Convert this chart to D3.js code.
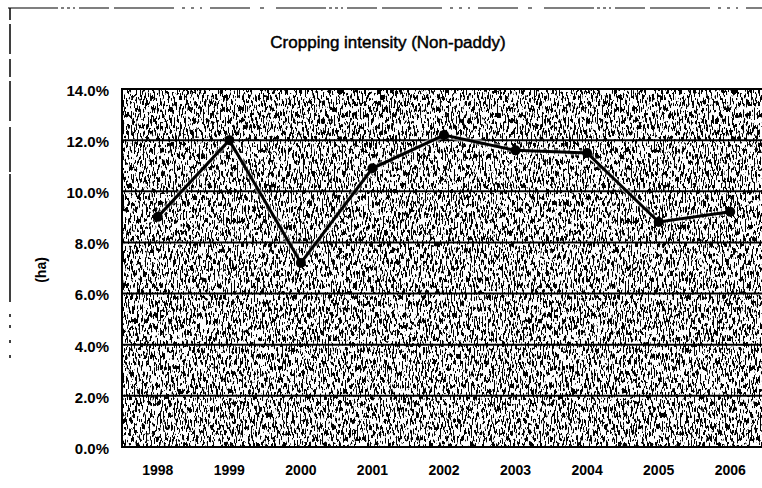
<!DOCTYPE html>
<html>
<head>
<meta charset="utf-8">
<script src="https://cdn.jsdelivr.net/npm/d3@7"></script>
<style>
  body { margin: 0; background: #fff; }
  svg text { font-family: "Liberation Sans", Arial, sans-serif; font-weight: bold; fill: #000; }
</style>
</head>
<body>
<div id="chart"></div>
<script>
const years = ["1998", "1999", "2000", "2001", "2002", "2003", "2004", "2005", "2006"];
const values = [9.0, 12.0, 7.2, 10.9, 12.2, 11.6, 11.5, 8.8, 9.2];
const yTicks = [0, 2, 4, 6, 8, 10, 12, 14];

const width = 762, height = 488;
const margin = { top: 89, right: -4, bottom: 41, left: 122 };
const graphWidth = width - margin.left - margin.right;
const graphHeight = height - margin.top - margin.bottom;

const svg = d3.select('#chart').append('svg')
    .attr('width', width)
    .attr('height', height);

// scanned grey fill, done as a thresholded noise texture
const defs = svg.append('defs');
const filter = defs.append('filter').attr('id', 'scan')
    .attr('x', 0).attr('y', 0).attr('width', 1).attr('height', 1)
    .attr('color-interpolation-filters', 'sRGB');
filter.append('feTurbulence')
    .attr('type', 'fractalNoise')
    .attr('baseFrequency', '0.65 0.17')
    .attr('numOctaves', 2)
    .attr('seed', 7)
    .attr('result', 'noise');
filter.append('feColorMatrix')
    .attr('type', 'matrix')
    .attr('values', '0 0 0 0 0  0 0 0 0 0  0 0 0 0 0  -24 0 0 0 11.4');
defs.append('clipPath').attr('id', 'clip')
    .append('rect').attr('width', graphWidth).attr('height', graphHeight);

// outer frame (broken scan lines)
svg.append('line')
    .attr('x1', 8).attr('x2', width).attr('y1', 8).attr('y2', 8)
    .attr('stroke', '#000').attr('stroke-width', 1.2)
    .attr('stroke-dasharray', '50 3 3 3 3 3 2 4 30 5 60 8 3 6 3 6 2 8 40 10 4 12');
svg.append('line')
    .attr('x1', 10).attr('x2', 10).attr('y1', 8).attr('y2', 358)
    .attr('stroke', '#000').attr('stroke-width', 1.5)
    .attr('stroke-dasharray', '12 4 30 5 18 4 40 6 45 2 128 12 3 8 3 12 3 12');

svg.append('text')
    .attr('x', 388).attr('y', 48)
    .attr('text-anchor', 'middle')
    .style('font-size', '17px')
    .style('font-weight', 'normal')
    .attr('stroke', '#000').attr('stroke-width', 0.45)
    .text('Cropping intensity (Non-paddy)');

const x = d3.scaleBand()
    .domain(years)
    .range([0, graphWidth]);

const y = d3.scaleLinear()
    .domain([0, 14])
    .range([graphHeight, 0]);

const graph = svg.append('g')
    .attr('transform', `translate(${margin.left}, ${margin.top})`);

graph.append('rect')
    .attr('width', graphWidth).attr('height', graphHeight)
    .attr('fill', '#fff');
graph.append('rect')
    .attr('width', graphWidth).attr('height', graphHeight)
    .attr('fill', '#000')
    .attr('filter', 'url(#scan)');

graph.selectAll('.grid').data(yTicks)
    .enter().append('line')
    .attr('class', 'grid')
    .attr('x1', 0).attr('x2', graphWidth)
    .attr('y1', d => y(d)).attr('y2', d => y(d))
    .attr('stroke', '#000').attr('stroke-width', 2);

graph.append('rect')
    .attr('width', graphWidth).attr('height', graphHeight)
    .attr('fill', 'none').attr('stroke', '#000').attr('stroke-width', 2);

const yAxisGroup = graph.append('g')
    .call(d3.axisLeft(y).tickValues(yTicks).tickSize(0).tickPadding(13)
        .tickFormat(d => d.toFixed(1) + '%'));
yAxisGroup.select('.domain').remove();
yAxisGroup.selectAll('text').style('font-size', '15px').attr('dy', '0.42em');

const xAxisGroup = graph.append('g')
    .attr('transform', `translate(0, ${graphHeight})`)
    .call(d3.axisBottom(x).tickSize(0).tickPadding(18));
xAxisGroup.select('.domain').remove();
xAxisGroup.selectAll('text').style('font-size', '14px');

svg.append('text')
    .attr('transform', 'translate(46, 270) rotate(-90)')
    .attr('text-anchor', 'middle')
    .style('font-size', '14px')
    .text('(ha)');

const line = d3.line()
    .x((d, i) => x(years[i]) + x.bandwidth() / 2)
    .y(d => y(d));

const plot = graph.append('g').attr('clip-path', 'url(#clip)');
// faint halo so the series reads over the texture, as in the scan
plot.append('path')
    .datum(values)
    .attr('d', line)
    .attr('fill', 'none')
    .attr('stroke', '#fff')
    .attr('stroke-opacity', 0.45)
    .attr('stroke-width', 6);
plot.append('path')
    .datum(values)
    .attr('d', line)
    .attr('fill', 'none')
    .attr('stroke', '#000')
    .attr('stroke-width', 3);

plot.selectAll('.dot').data(values)
    .enter().append('circle')
    .attr('class', 'dot')
    .attr('cx', (d, i) => x(years[i]) + x.bandwidth() / 2)
    .attr('cy', d => y(d))
    .attr('r', 5)
    .attr('fill', '#000');
</script>
</body>
</html>
